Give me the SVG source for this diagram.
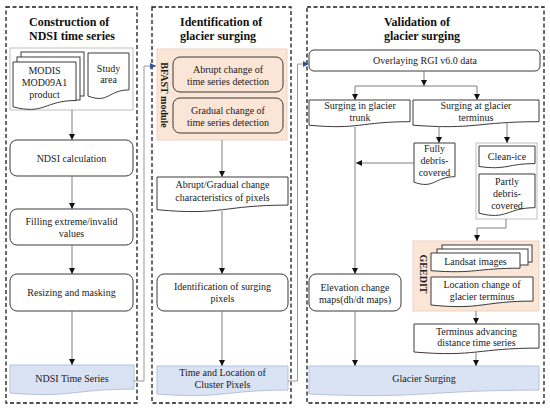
<svg xmlns="http://www.w3.org/2000/svg" width="550" height="411" viewBox="0 0 550 411">
<style>
text{font-family:"Liberation Serif","Times New Roman",serif;font-size:10px;fill:#1a1a1a;text-anchor:middle}
.title{font-size:12px;font-weight:bold;text-anchor:start;fill:#111}
.vt{font-weight:bold;font-size:10px}
.panel{fill:none;stroke:#1a1a1a;stroke-width:1.3;stroke-dasharray:4 2.5}
.node{fill:#fff;stroke:#3a3a3a;stroke-width:1}
.peach{fill:#FBE5D6}
.blue{fill:#DAE3F3;stroke:#b4c3dc;stroke-width:1}
.box{fill:#fff;stroke:#bfbfbf;stroke-width:1}
.pbox{fill:#FBE5D6;stroke:#efd3bf;stroke-width:1}
.c{fill:none;stroke:#7f7f7f;stroke-width:1;marker-end:url(#ah)}
.cb{fill:none;stroke:#9a9a9a;stroke-width:1;marker-end:url(#ahb)}
.cn{fill:none;stroke:#7f7f7f;stroke-width:1}
</style>
<defs>
<marker id="ah" markerUnits="userSpaceOnUse" markerWidth="7" markerHeight="7" refX="6" refY="3" orient="auto"><path d="M0,0 L6,3 L0,6 Z" fill="#111"/></marker>
<marker id="ahb" markerUnits="userSpaceOnUse" markerWidth="7" markerHeight="7" refX="6" refY="3" orient="auto"><path d="M0,0 L6,3 L0,6 Z" fill="#2f5597"/></marker>
</defs>
<rect width="550" height="411" fill="#fff"/>

<g id="panels">
<rect class="panel" x="6" y="7" width="131" height="396"/>
<rect class="panel" x="152" y="7" width="139" height="396"/>
<rect class="panel" x="307" y="7" width="237" height="396"/>
<text class="title" x="29" y="26">Construction of</text>
<text class="title" x="29" y="40">NDSI time series</text>
<text class="title" x="180" y="26">Identification of</text>
<text class="title" x="180" y="40">glacier surging</text>
<text class="title" x="384" y="26">Validation of</text>
<text class="title" x="384" y="40">glacier surging</text>
</g>

<g id="input-group">
<rect class="box" x="10" y="48" width="123" height="62"/>
</g>
<g id="modis">
<rect class="node" x="21" y="52" width="63" height="44"/>
<rect class="node" x="17" y="57" width="63" height="43"/>
<path class="node" d="M13 62 H76 V100.5 C44.5 100.5 44.5 115.2 13 106.8 Z"/>
<text x="44.5" y="74">MODIS</text>
<text x="44.5" y="86">MOD09A1</text>
<text x="44.5" y="98">product</text>
</g>
<g id="study-area">
<path class="node" d="M88 53 H129 V89.9 C108.5 89.9 108.5 104 88 96 Z"/>
<text x="108.5" y="72">Study</text>
<text x="108.5" y="83">area</text>
</g>
<g id="ndsi-calc">
<rect class="node" x="10" y="140" width="123" height="36" rx="7"/>
<text x="71.5" y="162">NDSI calculation</text>
</g>
<g id="filling">
<rect class="node" x="10" y="209" width="123" height="36" rx="7"/>
<text x="71.5" y="225">Filling extreme/invalid</text>
<text x="71.5" y="237">values</text>
</g>
<g id="resizing">
<rect class="node" x="10" y="274" width="123" height="37" rx="7"/>
<text x="71.5" y="296">Resizing and masking</text>
</g>
<g id="ndsi-ts">
<path class="blue" d="M10 365 H134 V389.1 C72 389.1 72 398.2 10 393 Z"/>
<text x="72" y="381.5">NDSI Time Series</text>
</g>

<g id="bfast">
<rect class="pbox" x="157" y="49" width="130" height="91"/>
<text class="vt" transform="translate(161 95) rotate(90)">BFAST module</text>
</g>
<g id="abrupt">
<rect class="node peach" x="173" y="57" width="110" height="35" rx="7"/>
<text x="228" y="73">Abrupt change of</text>
<text x="228" y="85">time series detection</text>
</g>
<g id="gradual">
<rect class="node peach" x="173" y="98" width="110" height="35" rx="7"/>
<text x="228" y="113.5">Gradual change of</text>
<text x="228" y="125.5">time series detection</text>
</g>
<g id="characteristics">
<path class="node" d="M157 177 H288 V205.1 C222.5 205.1 222.5 215.8 157 209.7 Z"/>
<text x="222.5" y="188">Abrupt/Gradual change</text>
<text x="222.5" y="200.5">characteristics of pixels</text>
</g>
<g id="identification">
<rect class="node" x="157" y="274" width="131" height="37" rx="7"/>
<text x="222.5" y="290">Identification of surging</text>
<text x="222.5" y="302">pixels</text>
</g>
<g id="cluster">
<path class="blue" d="M157 366 H288 V390.1 C222.5 390.1 222.5 399.2 157 394 Z"/>
<text x="222.5" y="375.5">Time and Location of</text>
<text x="222.5" y="387.5">Cluster Pixels</text>
</g>

<g id="overlaying">
<rect class="node" x="309" y="50" width="231" height="21" rx="5"/>
<text x="425" y="64">Overlaying RGI v6.0 data</text>
</g>
<g id="trunk">
<path class="node" d="M309 100 H410 V121.7 C359.5 121.7 359.5 129.9 309 125.2 Z"/>
<text x="360" y="108.5">Surging in glacier</text>
<text x="360" y="120.5">trunk</text>
</g>
<g id="terminus">
<path class="node" d="M413 100 H539 V121.7 C476 121.7 476 129.9 413 125.2 Z"/>
<text x="476" y="108.5">Surging at glacier</text>
<text x="476" y="120.5">terminus</text>
</g>
<g id="fully">
<path class="node" d="M414 143 H455 V176.7 C434.5 176.7 434.5 189.5 414 182.2 Z"/>
<text x="434.5" y="151.5">Fully</text>
<text x="434.5" y="163.5">debris-</text>
<text x="434.5" y="175.5">covered</text>
</g>
<g id="clean-partly-group">
<rect class="box" x="476" y="143" width="61" height="76"/>
</g>
<g id="clean-ice">
<path class="node" d="M479 146 H535 V163.6 C507 163.6 507 170.4 479 166.5 Z"/>
<text x="507" y="159.5">Clean-ice</text>
</g>
<g id="partly">
<path class="node" d="M479 174 H535 V207.7 C507 207.7 507 220.5 479 213.2 Z"/>
<text x="507" y="184.5">Partly</text>
<text x="507" y="196.5">debris-</text>
<text x="507" y="208.5">covered</text>
</g>
<g id="geedit">
<rect class="pbox" x="413" y="241" width="126" height="70"/>
<text class="vt" transform="translate(420 274) rotate(90)">GEEDIT</text>
</g>
<g id="landsat">
<rect class="node" x="442" y="245" width="90" height="17"/>
<rect class="node" x="437" y="249" width="91" height="16"/>
<path class="node" d="M431 253 H520 V268.2 C475.5 268.2 475.5 274 431 270.7 Z"/>
<text x="475.5" y="264.5">Landsat images</text>
</g>
<g id="location">
<path class="node" d="M431 277 H533 V301.1 C482 301.1 482 310.2 431 305 Z"/>
<text x="482" y="288">Location change of</text>
<text x="482" y="300">glacier terminus</text>
</g>
<g id="terminus-advancing">
<path class="node" d="M414 324 H539 V348.1 C476.5 348.1 476.5 357.2 414 352 Z"/>
<text x="476.5" y="334.5">Terminus advancing</text>
<text x="476.5" y="346">distance time series</text>
</g>
<g id="elevation">
<rect class="node" x="309" y="274" width="92" height="37" rx="7"/>
<text x="355" y="290.5">Elevation change</text>
<text x="355" y="302.5">maps(dh/dt maps)</text>
</g>
<g id="glacier-surging">
<path class="blue" d="M309 366 H539 V390.1 C424 390.1 424 399.2 309 394 Z"/>
<text x="424" y="381.5">Glacier Surging</text>
</g>

<g id="connectors">
<path class="c" d="M72 110 V140"/>
<path class="c" d="M72 176 V209"/>
<path class="c" d="M72 245 V274"/>
<path class="c" d="M72 311 V365"/>
<path class="cb" d="M134 381 H144 V66 H156"/>
<path class="c" d="M222 140 V177"/>
<path class="c" d="M222 211 V274"/>
<path class="c" d="M222 311 V366"/>
<path class="cb" d="M288 381 H297.5 V64 H309"/>
<path class="c" d="M424 71 V86"/>
<path class="cn" d="M355 86 H477"/>
<path class="c" d="M355 86 V100"/>
<path class="c" d="M477 86 V100"/>
<path class="c" d="M439 126 V143"/>
<path class="c" d="M507 122.5 V143"/>
<path class="c" d="M414 163 H356"/>
<path class="c" d="M355 127 V274"/>
<path class="c" d="M506 219 V228 H477 V241"/>
<path class="c" d="M476 311 V324"/>
<path class="c" d="M476 352 V366"/>
<path class="c" d="M355 311 V366"/>
</g>
</svg>
